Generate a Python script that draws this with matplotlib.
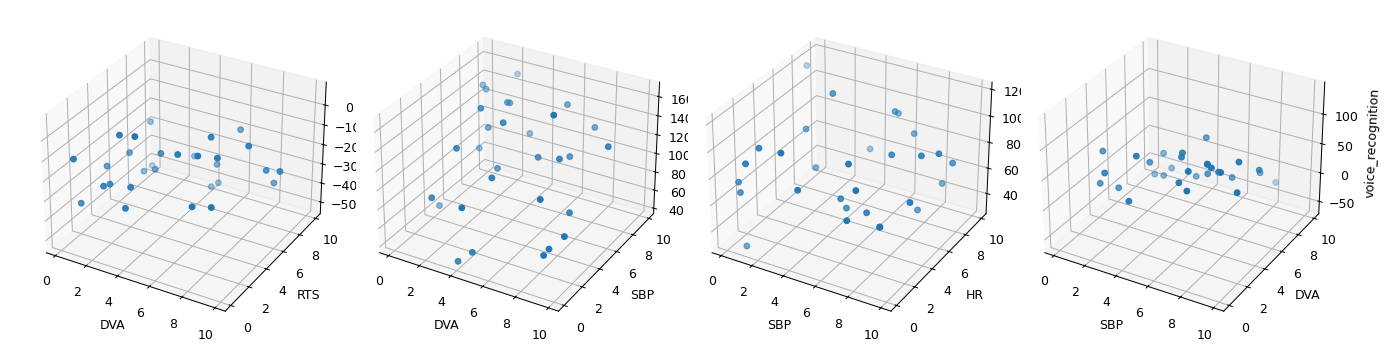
import matplotlib
matplotlib.use("Agg")
import matplotlib.pyplot as plt

# panel 1
dva_1 = [0.1,1.9,3.0,0.0,0.7,0.2,3.0,4.9,2.8,6.2,5.9,5.8,7.8,6.8,4.8,8.3,9.3,8.2,4.3,4.1,0.0,2.2,0.9,1.5,1.4,2.8,0.0,3.2,6.6,7.5]
rts_1 = [9.4,3.2,3.0,1.5,6.1,4.5,5.7,4.3,9.8,4.2,6.2,9.8,7.0,5.3,8.9,8.2,7.9,9.4,10.0,9.5,9.7,6.4,7.3,2.1,2.9,2.8,2.1,1.6,2.9,3.4]
z_1 = [-26.7,-6.0,-3.5,-15.6,-28.9,-30.7,-22.5,-13.2,-40.6,-10.6,-9.7,-19.9,-13.0,-14.6,-36.8,-29.0,-26.0,-40.7,-52.3,-52.8,-51.7,-35.4,-43.0,-28.2,-30.7,-28.6,-40.6,-33.3,-29.7,-30.0]

# panel 2
dva_2 = [3.4,2.2,2.4,3.8,3.9,2.9,6.7,6.9,4.3,3.3,8.3,5.1,2.5,2.9,9.6,6.3,7.5,7.7,4.4,4.7,2.0,1.9,3.9,7.4,8.7,9.0,8.4,8.3,4.7,4.1]
sbp_2 = [7.6,5.9,5.9,5.8,5.9,4.5,7.3,5.4,4.5,4.6,7.5,6.0,2.6,4.3,6.6,4.8,5.0,5.8,3.7,2.6,0.8,1.7,0.8,3.1,4.0,2.9,2.3,1.9,0.5,0.0]
z_2 = [174.7,170.9,167.5,160.7,159.9,160.7,159.8,164.6,152.2,141.9,141.9,132.8,132.7,120.9,135.2,123.3,125.6,122.5,111.8,112.6,93.9,77.2,93.0,99.2,84.0,70.3,59.4,55.8,52.8,44.6]

# panel 3
sbp_3 = [0.8,3.3,6.3,6.3,2.3,7.4,5.2,0.9,2.3,7.1,8.6,9.3,9.9,3.2,0.6,5.5,0.1,0.4,9.4,3.5,6.3,5.3,5.6,6.8,8.8,8.8,6.2,7.9,7.9,1.1]
hr_3 = [7.3,5.9,7.5,7.9,4.7,7.7,6.7,2.1,2.1,5.7,6.3,7.0,7.5,4.2,1.2,3.8,1.2,0.9,7.3,1.8,3.2,3.3,3.4,3.5,4.7,5.6,2.4,3.0,3.0,0.3]
z_3 = [125.2,119.6,106.9,103.3,96.6,92.8,79.6,92.6,93.7,87.5,88.3,88.1,80.2,73.3,85.2,86.4,69.6,64.6,64.1,71.9,73.0,62.6,55.9,56.1,63.6,52.2,54.9,52.6,52.4,29.8]

# panel 4
sbp_4 = [6.7,2.2,4.1,4.7,6.1,6.1,4.5,7.5,7.5,7.8,8.9,2.8,5.2,6.8,4.5,5.0,7.3,6.6,7.9,8.3,8.4,9.7,9.5,2.5,3.4,6.4,7.0,4.4,9.3,10.0]
dva_4 = [4.4,1.2,1.5,3.3,2.9,2.8,2.2,3.1,3.1,3.0,4.0,0.4,3.3,2.3,2.7,2.8,3.5,3.5,3.6,3.1,4.2,4.8,5.3,0.4,0.8,2.0,1.8,0.2,3.1,6.2]
voice = [111.2,97.1,99.3,85.0,101.4,95.7,83.2,91.3,90.8,88.7,93.3,76.6,64.4,84.6,56.9,57.3,68.4,58.9,74.6,83.8,61.5,75.7,63.0,57.3,51.6,67.1,61.1,45.7,58.7,38.8]

xs = [dva_1, dva_2, sbp_3, sbp_4]
ys = [rts_1, sbp_2, hr_3, dva_4]
zs = [z_1, z_2, z_3, voice]
xlabels = ["DVA", "DVA", "SBP", "SBP"]
ylabels = ["RTS", "SBP", "HR", "DVA"]
zlabels = ["", "", "", "voice_recognition"]
zlims = [(-56.2, 11.4), (34, 175), (24, 125.4), (-71.6, 153)]
zticks = [[-50, -40, -30, -20, -10, 0], [40, 60, 80, 100, 120, 140, 160], [40, 60, 80, 100, 120], [-50, 0, 50, 100]]

W, H = 1396, 363
S = 318.5
centers = [181.5, 514.8, 847.3, 1180.0]
cy = 172.0

fig = plt.figure(figsize=(W / 90, H / 90), dpi=90)

for i in range(4):
    ax = fig.add_axes([(centers[i] - S / 2) / W, 1 - (cy + S / 2) / H, S / W, S / H], projection="3d")
    ax.scatter(xs[i], ys[i], zs[i])
    ax.set_xlim(-0.6, 10.6)
    ax.set_ylim(-0.6, 10.6)
    ax.set_zlim(*zlims[i])
    ax.set_zticks(zticks[i])
    ax.set_xlabel(xlabels[i])
    ax.set_ylabel(ylabels[i])
    ax.set_zlabel(zlabels[i])

fig.savefig("out.png", dpi=90)
